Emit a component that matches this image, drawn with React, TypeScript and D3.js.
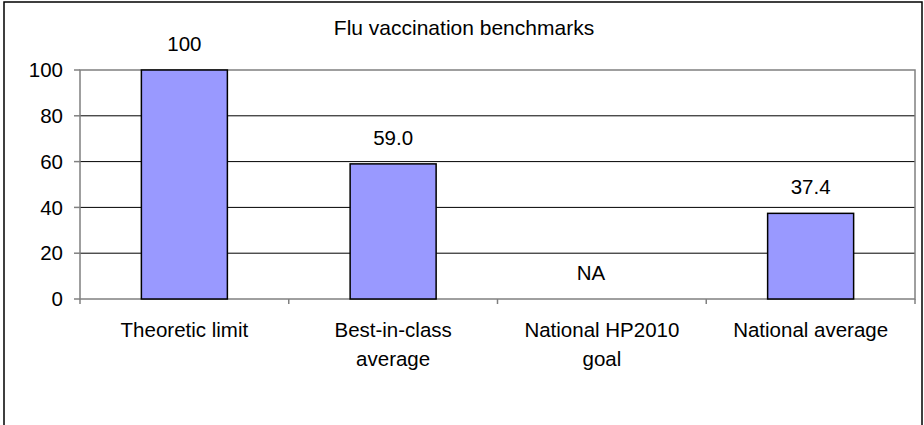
import React from "react";
import * as d3 from "d3";

const title = "Flu vaccination benchmarks";
const categories = ["Theoretic limit", "Best-in-class\naverage", "National HP2010\ngoal", "National average"];
const values: (number | null)[] = [100, 59.0, null, 37.4];
const valueLabels = ["100", "59.0", "NA", "37.4"];
const yTicks = [0, 20, 40, 60, 80, 100];

const W = 924;
const H = 425;
const FONT = "'Liberation Sans', Arial, sans-serif";

export default function App() {
  const left = 80, right = 915, top = 70, bottom = 299;
  const y = d3.scaleLinear().domain([0, 100]).range([bottom, top]);
  const pad = 1 - 86 / ((right - left) / categories.length);
  const x = d3.scaleBand<string>().domain(categories).range([left, right]).paddingInner(pad).paddingOuter(pad / 2);
  const step = x.step();
  const bounds = d3.range(categories.length + 1).map((i) => left + i * step);

  return (
    <svg width={W} height={H} style={{ position: "absolute", left: 0, top: 0, background: "#fff" }} fontFamily={FONT}>
      <rect x={4} y={2} width={918} height={460} fill="#fff" stroke="#000" strokeWidth={1.5} />
      <text x={464} y={35} textAnchor="middle" fontSize={21} fill="#000">{title}</text>
      {yTicks.filter((t) => t > 0 && t < 100).map((t) => (
        <line key={"g" + t} x1={left} x2={right} y1={y(t)} y2={y(t)} stroke="#000" strokeWidth={1} />
      ))}
      <rect x={left} y={top} width={right - left} height={bottom - top} fill="none" stroke="#808080" strokeWidth={1.5} />
      {yTicks.map((t) => (
        <g key={"t" + t}>
          <line x1={left - 6} x2={left} y1={y(t)} y2={y(t)} stroke="#808080" strokeWidth={1.5} />
          <text x={63} y={y(t)} dy="0.35em" textAnchor="end" fontSize={20.5} fill="#000">{t}</text>
        </g>
      ))}
      {bounds.map((b, i) => (
        <line key={"x" + i} x1={b} x2={b} y1={bottom} y2={bottom + 5} stroke="#808080" strokeWidth={1.5} />
      ))}
      {categories.map((c, i) => {
        const v = values[i];
        const cx = (x(c) as number) + x.bandwidth() / 2;
        return (
          <g key={c}>
            {v !== null && (
              <rect x={x(c)} y={y(v)} width={x.bandwidth()} height={y(0) - y(v)} fill="#9999FF" stroke="#000" strokeWidth={1.5} />
            )}
            <text x={cx} dx={v === null ? -11 : 0} y={y(v ?? 0) - 19} textAnchor="middle" fontSize={20.5} fill="#000">{valueLabels[i]}</text>
            {c.split("\n").map((line, j) => (
              <text key={j} x={cx} y={336.5 + j * 29.5} textAnchor="middle" fontSize={20.5} fill="#000">{line}</text>
            ))}
          </g>
        );
      })}
    </svg>
  );
}
